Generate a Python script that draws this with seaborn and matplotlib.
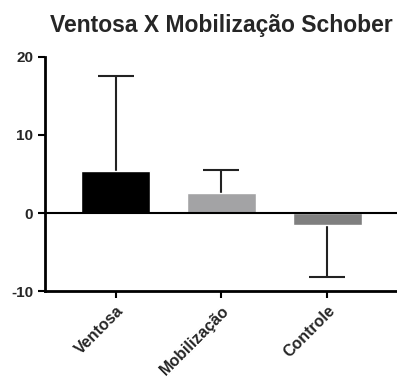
import matplotlib
matplotlib.use('Agg')
import matplotlib.pyplot as plt
import seaborn as sns
import pandas as pd

# Data
groups = ['Ventosa', 'Mobilização', 'Controle']
means = [5.4, 2.6, -1.5]
sd = [12.2, 2.9, 6.7]
colors = ['#000000', '#a2a2a6', '#7f7f7f']

df = pd.DataFrame({'group': groups, 'mean': means})

sns.set_style('ticks')
plt.rcParams['font.family'] = ['Liberation Sans', 'DejaVu Sans']
plt.rcParams['axes.unicode_minus'] = False

fig = plt.figure(figsize=(3.97, 3.82), dpi=100)
ax = fig.add_axes([0.113, 0.238, 0.887, 0.613])

sns.barplot(data=df, x='group', y='mean', hue='group', palette=colors,
            errorbar=None, width=0.65, legend=False, ax=ax, zorder=2)

# one-sided error bars (away from zero), cap only at the far end
for i, (m, s) in enumerate(zip(means, sd)):
    end = m + s if m >= 0 else m - s
    ax.vlines(i, m, end, color='#222222', lw=1.5, zorder=1)
    ax.hlines(end, i - 0.17, i + 0.17, color='#222222', lw=1.5, zorder=1)

ax.axhline(0, color='black', lw=1.5, zorder=3)
ax.set_ylim(-10, 20)
ax.set_xlim(-0.67, 2.66)
ax.set_yticks([-10, 0, 10, 20])
ax.set_xlabel('')
ax.set_ylabel('')
ax.set_title('Ventosa X Mobilização Schober', fontsize=16.5, fontweight='bold', pad=18)

for side in ['top', 'right']:
    ax.spines[side].set_visible(False)
for side in ['left', 'bottom']:
    ax.spines[side].set_linewidth(2)
    ax.spines[side].set_color('black')
ax.tick_params(width=1.5, length=5, color='black')
plt.setp(ax.get_yticklabels(), fontsize=11, fontweight='bold')
plt.setp(ax.get_xticklabels(), fontsize=11.5, fontweight='bold', rotation=45,
         ha='right', rotation_mode='anchor')

fig.savefig('out.png', dpi=100)
